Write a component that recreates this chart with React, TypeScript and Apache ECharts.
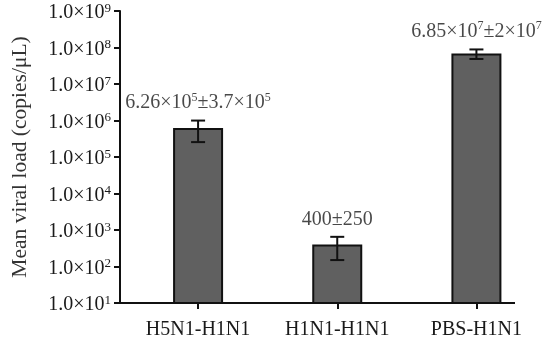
import React, { useEffect, useRef } from 'react';
import * as echarts from 'echarts';

const categories = ['H5N1-H1N1', 'H1N1-H1N1', 'PBS-H1N1'];
const meanValues = [6.26e5, 400, 6.85e7];
const errorValues = [3.7e5, 250, 2e7];
const valueLabels = ['6.26×10{s|5}±3.7×10{s|5}', '400±250', '6.85×10{s|7}±2×10{s|7}'];
const yMin = 1e1;
const yMax = 1e9;
const yAxisName = 'Mean viral load (copies/μL)';

export default function App() {
  const ref = useRef<HTMLDivElement>(null);
  useEffect(() => {
    const chart = echarts.init(ref.current as HTMLDivElement, null, { renderer: 'svg' });
    const font = 'Liberation Serif';
    const ink = '#111';
    const txt = '#1a1a1a';
    const errData = categories.map((_, i) => [i, meanValues[i] - errorValues[i], meanValues[i] + errorValues[i]]);
    const labelData = categories.map((_, i) => [i, meanValues[i] + errorValues[i]]);
    chart.setOption({
      animation: false,
      textStyle: { fontFamily: font },
      grid: { left: 127.5, right: 12, top: 11, bottom: 38 },
      xAxis: {
        type: 'category',
        data: categories,
        axisLine: { show: false },
        axisTick: { show: true, alignWithLabel: true, length: 6, lineStyle: { width: 2, color: ink } },
        axisLabel: { margin: 15, fontFamily: font, fontSize: 20, color: txt },
      },
      yAxis: {
        type: 'log',
        logBase: 10,
        min: yMin,
        max: yMax,
        splitNumber: 8,
        offset: 8.5,
        name: yAxisName,
        nameLocation: 'middle',
        nameGap: 90,
        nameTextStyle: { fontFamily: font, fontSize: 21.5, color: '#333' },
        axisLine: { show: true, lineStyle: { width: 2, color: ink } },
        axisTick: { show: true, length: 6, lineStyle: { width: 2, color: ink } },
        splitLine: { show: false },
        axisLabel: {
          margin: 9,
          fontFamily: font,
          fontSize: 20,
          color: txt,
          formatter: (v: number) => `1.0×10{s|${Math.round(Math.log10(v))}}`,
          rich: { s: { fontSize: 13, fontFamily: font, color: txt, padding: [0, 0, 8, 0] } },
        },
      },
      graphic: [
        { type: 'line', shape: { x1: 118, y1: 303, x2: 515, y2: 303 }, style: { stroke: ink, lineWidth: 2 }, z: 10 },
      ],
      series: [
        {
          type: 'bar',
          data: meanValues,
          barWidth: 50,
          clip: true,
          itemStyle: { color: '#606060', borderColor: ink, borderWidth: 2 },
          z: 2,
        },
        {
          type: 'custom',
          data: errData,
          encode: { x: 0, y: [1, 2] },
          z: 3,
          renderItem: (params: any, api: any) => {
            const x = api.value(0);
            const lo = api.coord([x, api.value(1)]);
            const hi = api.coord([x, api.value(2)]);
            const hw = 7;
            const style = { stroke: ink, lineWidth: 2 };
            return {
              type: 'group',
              children: [
                { type: 'line', shape: { x1: hi[0], y1: hi[1], x2: lo[0], y2: lo[1] }, style },
                { type: 'line', shape: { x1: hi[0] - hw, y1: hi[1], x2: hi[0] + hw, y2: hi[1] }, style },
                { type: 'line', shape: { x1: lo[0] - hw, y1: lo[1], x2: lo[0] + hw, y2: lo[1] }, style },
              ],
            };
          },
        },
        {
          type: 'scatter',
          data: labelData,
          symbolSize: 0,
          z: 4,
          label: {
            show: true,
            position: 'top',
            distance: 9,
            fontFamily: font,
            fontSize: 20,
            color: txt,
            formatter: (p: any) => valueLabels[p.dataIndex],
            rich: { s: { fontSize: 12, fontFamily: font, color: txt, padding: [0, 0, 9, 0] } },
          },
        },
      ],
    });
    return () => chart.dispose();
  }, []);
  return <div ref={ref} style={{ position: 'fixed', left: 0, top: 0, width: 558, height: 341 }} />;
}
